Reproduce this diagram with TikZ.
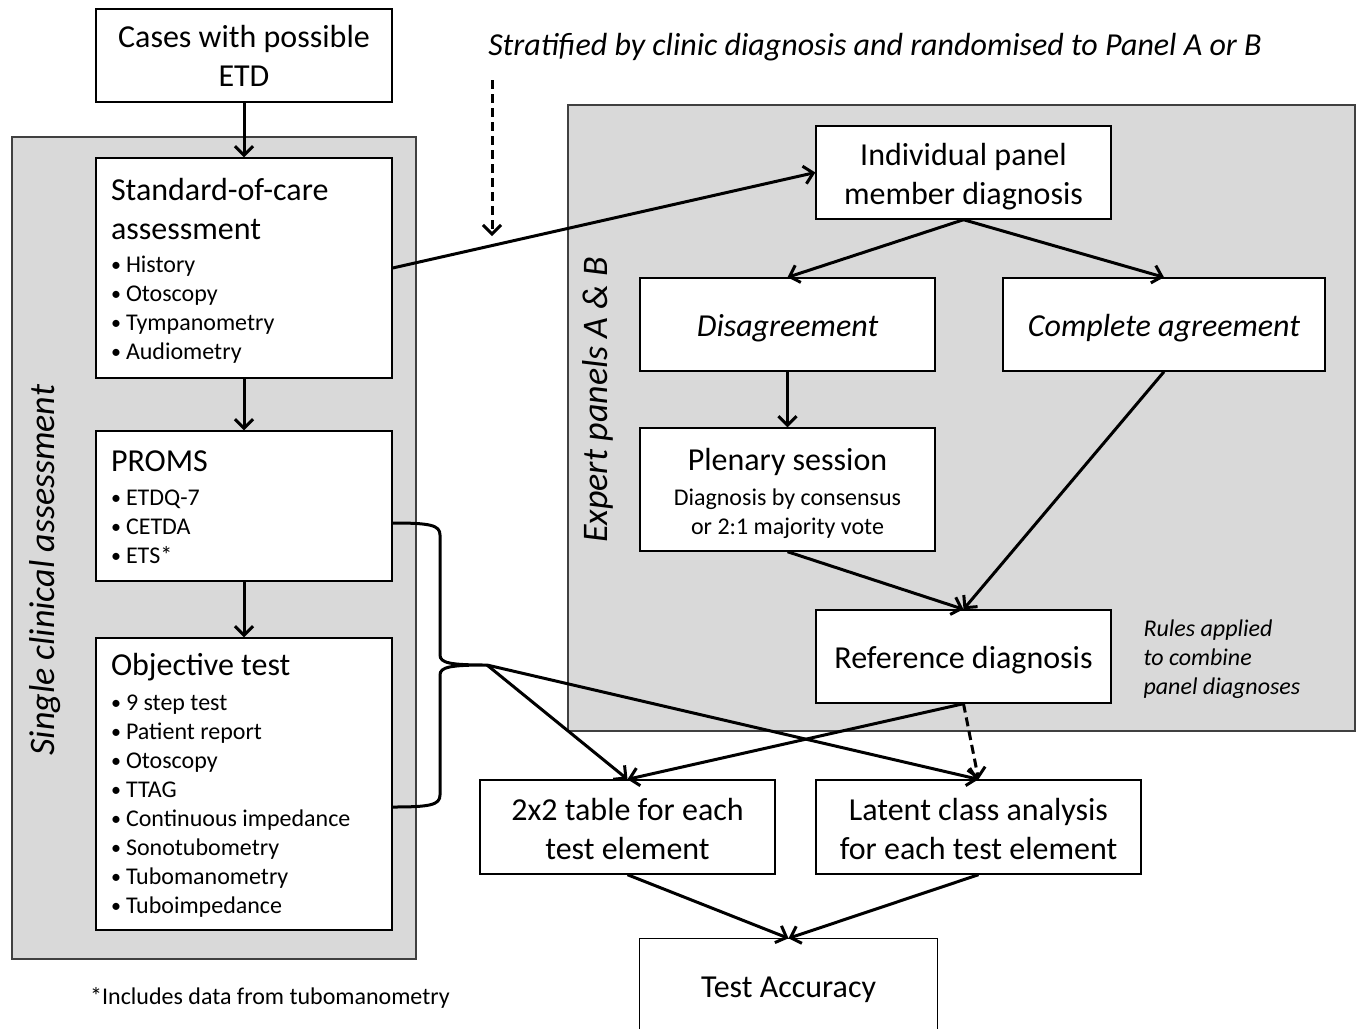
\documentclass[tikz,border=0pt]{standalone}
\usepackage{fontspec}
\setmainfont{Carlito}
\usetikzlibrary{arrows.meta}
\definecolor{panelgray}{HTML}{D9D9D9}
\definecolor{paneledge}{HTML}{404040}
\newcommand{\ttl}[1]{\hbox to 266pt{\fontsize{32}{39}\selectfont #1\hfil}}
\newcommand{\itm}[1]{\hbox to 266pt{\fontsize{24}{29}\selectfont\hbox to 15pt{\fontsize{20}{20}\selectfont\raisebox{1pt}{•}\hfil}#1\hfil}}
\newcommand{\ctl}[1]{\hbox to 280pt{\hfil\fontsize{32}{39}\selectfont #1\hfil}}
\newcommand{\csm}[1]{\hbox to 280pt{\hfil\fontsize{24}{29}\selectfont #1\hfil}}
\newcommand{\dn}{\rule{0pt}{30pt}}
\begin{document}
\begin{tikzpicture}[x=1pt,y=-1pt,
  box/.style={draw=black, line width=1.4pt, fill=white, inner sep=0pt, align=center,
    font=\fontsize{32}{39}\selectfont},
  lbox/.style={draw=black, line width=1.4pt, fill=white, inner sep=0pt},
  panel/.style={draw=paneledge, line width=1.8pt, fill=panelgray},
  arr/.style={line width=3pt, -{Straight Barb[length=9pt,width=18pt]}},
  darr/.style={arr, dash pattern=on 9pt off 5pt}]
\useasboundingbox (0,0) rectangle (1357,1029);
% panels
\draw[panel] (12,137) rectangle (416,959);
\draw[panel] (568,105) rectangle (1355,731);
% left column boxes
\node[box, minimum width=296pt, minimum height=93pt] (cases) at (244,55.5) {Cases with possible\\ETD};
\node[lbox, minimum width=296pt, minimum height=220pt] (soc) at (244,268)
  {\vbox{\kern5pt\baselineskip=39pt \ttl{Standard-of-care}\ttl{assessment}\baselineskip=33pt
   \itm{History}\baselineskip=29pt\itm{Otoscopy}\itm{Tympanometry}\itm{Audiometry}}};
\node[lbox, minimum width=296pt, minimum height=150pt] (proms) at (244,506)
  {\vbox{\kern2pt\baselineskip=34pt \ttl{PROMS}\itm{ETDQ-7}\baselineskip=29pt\itm{CETDA}\itm{ETS*}}};
\node[lbox, minimum width=296pt, minimum height=292pt] (obj) at (244,784)
  {\vbox{\kern3pt\baselineskip=35pt \ttl{Objective test}\itm{9 step test}\baselineskip=29pt\itm{Patient report}\itm{Otoscopy}\itm{TTAG}\itm{Continuous impedance}\itm{Sonotubometry}\itm{Tubomanometry}\itm{Tuboimpedance}}};
% right side boxes
\node[box, minimum width=295pt, minimum height=93pt] (ind) at (963.5,172.5) {\dn Individual panel\\member diagnosis};
\node[box, minimum width=295pt, minimum height=93pt] (dis) at (787.5,324.5) {\dn\itshape Disagreement};
\node[box, minimum width=322pt, minimum height=93pt] (comp) at (1164,324.5) {\dn\itshape Complete agreement};
\node[lbox, minimum width=295pt, minimum height=123pt] (plen) at (787.5,489.5)
  {\vbox{\kern8pt\baselineskip=35pt \ctl{Plenary session}\csm{Diagnosis by consensus}\baselineskip=29pt\csm{or 2:1 majority vote}}};
\node[box, minimum width=295pt, minimum height=93pt] (ref) at (963.5,656.5) {\dn Reference diagnosis};
\node[box, minimum width=295pt, minimum height=94pt] (tab) at (627.5,827) {\rule{0pt}{27pt}2x2 table for each\\test element};
\node[box, minimum width=325pt, minimum height=94pt] (lat) at (978.5,827) {\rule{0pt}{27pt}Latent class analysis\\for each test element};
\node[box, draw=none, fill=none, minimum width=297pt, minimum height=102pt] (ta) at (788.5,990) {Test Accuracy};
\draw[line width=1.4pt] (ta.north west |- 0,1029) -- (ta.north west) -- (ta.north east) -- (ta.north east |- 0,1029);
% texts
\node[font=\fontsize{32}{39}\selectfont\itshape] (title) at (875,47) {Stratified by clinic diagnosis and randomised to Panel A or B};
\node[font=\fontsize{24}{29}\selectfont\itshape, align=left, anchor=west] (rules) at (1140,659) {Rules applied\\to combine\\panel diagnoses};
\node[font=\fontsize{24}{29}\selectfont] (foot) at (270,998) {*Includes data from tubomanometry};
\node[font=\fontsize{36}{43}\selectfont\itshape, rotate=90] (sca) at (45,570) {Single clinical assessment};
\node[font=\fontsize{36}{43}\selectfont\itshape, rotate=90] (exp) at (598,400) {Expert panels A \& B};
% connectors
\draw[arr] (cases.south) -- (soc.north);
\draw[arr] (soc.south) -- (proms.north);
\draw[arr] (proms.south) -- (obj.north);
\draw[arr] (soc.east) -- (ind.west);
\coordinate (ds) at (492,80);
\coordinate (de) at (492,236);
\draw[darr] (ds) -- (de);
\draw[arr] (ind.south) -- (dis.north);
\draw[arr] (ind.south) -- (comp.north);
\draw[arr] (dis.south) -- (plen.north);
\draw[arr] (plen.south) -- (ref.north);
\draw[arr] (comp.south) -- (ref.north);
\draw[arr] (ref.south) -- (tab.north);
\draw[darr] (ref.south) -- (lat.north);
% brace
\coordinate (bt) at (487,665);
\draw[line width=3pt] (proms.east |- 0,523) .. controls (430,523) and (440,525) .. (440,535) -- (440,655)
  .. controls (440,663) and (450,665) .. (bt)
  .. controls (450,665) and (440,667) .. (440,675) -- (440,795)
  .. controls (440,805) and (430,807) .. (obj.east |- 0,807);
\draw[arr] (bt) -- (tab.north);
\draw[arr] (bt) -- (lat.north);
\draw[arr] (tab.south) -- (ta.north);
\draw[arr] (lat.south) -- (ta.north);
\end{tikzpicture}
\end{document}
